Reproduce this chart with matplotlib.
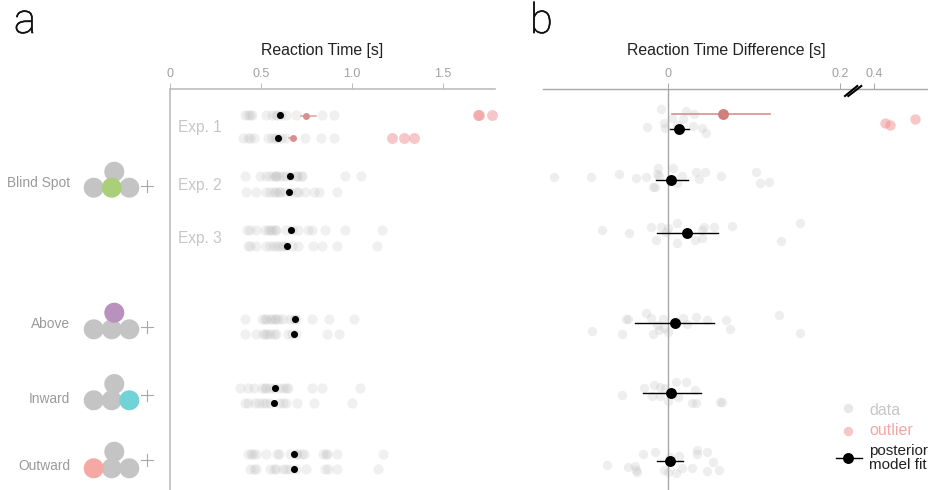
from matplotlib import pyplot as plt
from matplotlib import patheffects
from matplotlib.patches import Circle
import numpy as np

WIDTH, HEIGHT = 929, 490

# panel a, reaction times [s], two rows for each experiment
row_names = ['exp1_a', 'exp1_b', 'exp2_a', 'exp2_b', 'exp3_a', 'exp3_b',
             'above_a', 'above_b', 'inward_a', 'inward_b', 'outward_a', 'outward_b']
row_y = [115.5, 137.7, 176.5, 191.7, 229.7, 246.2, 318.7, 334.3, 387.7, 403, 453.7, 469]
rt_data = [
    [.41, .43, .44, .45, .53, .56, .58, .59, .61, .64, .69, .835, .90],
    [.40, .43, .44, .46, .54, .56, .575, .59, .61, .64, .74, .83, .90],
    [.41, .495, .53, .55, .57, .58, .585, .60, .62, .64, .66, .695, .70, .72, .725, .96, 1.05],
    [.42, .47, .53, .55, .57, .58, .60, .605, .63, .66, .69, .705, .74, .79, .82, .92],
    [.425, .44, .47, .52, .54, .55, .56, .575, .585, .64, .67, .705, .76, .78, .85, .96, 1.167],
    [.43, .44, .475, .53, .55, .57, .59, .605, .62, .64, .67, .705, .785, .835, .92, 1.137],
    [.41, .505, .52, .53, .55, .56, .575, .585, .60, .62, .66, .68, .695, .78, .875, 1.01],
    [.41, .475, .51, .52, .535, .55, .57, .585, .65, .67, .695, .86, .93],
    [.385, .43, .46, .505, .52, .53, .55, .57, .60, .62, .64, .65, .78, .835, 1.045],
    [.41, .43, .465, .49, .51, .53, .55, .60, .62, .64, .70, .79, 1.0],
    [.43, .445, .455, .47, .53, .59, .60, .66, .69, .70, .725, .735, .84, .855, .865, .92, 1.17],
    [.44, .46, .475, .55, .57, .585, .62, .64, .66, .69, .75, .85, .87, .915, 1.145],
]
rt_means = [.606, .595, .657, .654, .667, .645, .689, .68, .577, .573, .683, .68]
rt_outliers = {0: [1.69, 1.70, 1.77], 1: [1.22, 1.285, 1.343]}
rt_outlier_means = [(.745, .72, .80, 115.7), (.678, .655, .695, 137.7)]

# panel b, reaction time differences [ms] and their vertical jitter
diff_x = [
    [-8, 21, 30, 5, 18, -5, 29, -24, -3, 40, 44, 10],
    [-133, -90, -57, -37, -26, -12, 6, -13, -11, 16, 33, 43, 62, 102, 36, 117, 107, -18, -15, 10],
    [-77, -45, -20, -8, 0, 10, 42, 54, 74, 153, -14, 11, 131, 31, 40, 39, -2],
    [-26, -20, -49, -47, -6, 17, 33, 45, 68, 129, 72, 153, -88, -54, -17, 0, -11, -5, 22, -13],
    [-28, -16, -9, 9, 21, 31, -3, -19, -9, 12, -54, 0, 28, 33, 61, 63],
    [-29, -15, 2, 13, 34, 34, 45, 52, -71, -47, -38, -36, -37, -5, 0, 9, 16, 28, 45, 59],
]
diff_y = [
    [109, 111, 114, 118, 119, 123, 126, 127, 128, 128, 133, 125],
    [176.7, 177, 174, 178.3, 177, 168.3, 168.3, 174, 176, 176, 172.3, 171.7, 176.3, 171.7, 179.3,
     181.7, 183.3, 187.3, 186.7, 182.7],
    [230.3, 233.3, 227.3, 227.3, 228.3, 222.7, 226.7, 227.3, 226, 222.7, 239.7, 243, 240.7, 240,
     238, 230, 232.3],
    [313.3, 318.3, 319, 319, 319.3, 318.3, 316.7, 320, 320, 315, 328.7, 332.7, 330.7, 333.7, 334,
     332.3, 330, 328.3, 324, 325],
    [388.3, 385, 387.3, 381.7, 381.7, 390.3, 388.3, 395.7, 395.7, 397, 395, 400.7, 403.3, 403,
     401.7, 401.7],
    [454, 452.3, 456.7, 456, 450, 454, 452.3, 462, 465, 467.3, 465.7, 471.7, 470, 470, 471.7,
     472.7, 468, 467.7, 470.7, 470.3],
]
diff_outlier_x = [.4275, .44, .5025]
diff_outlier_y = [122.7, 124.7, 118.7]
# mean, low, high [ms], row
fit_mean = [13, 4, 22, 8, 4, 2]
fit_low = [2, -14, -13, -38, -29, -13]
fit_high = [24, 23, 58, 54, 38, 17]
fit_y = [128.7, 180.3, 233.3, 323.3, 392.7, 460.7]
red_fit = (64, 5, 119, 113.7)

GRAY_DOT = '#b4b4b4'
RED_DOT = '#f08f8f'
AXIS_GRAY = '#bdbdbd'
TICK_TEXT = '#a0a0a0'
BREAK_X = [-1.0, 0.2, 0.4, 1.0]
BREAK_PX = [-860.0, 172.0, 206.0, 446.0]


def to_break(v):
    return np.interp(v, BREAK_X, BREAK_PX)


def from_break(p):
    return np.interp(p, BREAK_PX, BREAK_X)


def px_axes(fig, left, right, top, bottom):
    return fig.add_axes([left / WIDTH, 1 - bottom / HEIGHT,
                         (right - left) / WIDTH, (bottom - top) / HEIGHT])


plt.rcParams['font.family'] = ['Liberation Sans', 'DejaVu Sans']

fig = plt.figure()
fig.set_size_inches(9.29, 4.9)

# panel a
ax = px_axes(fig, 170, 495, 89.5, 490)
ax.set_xlim(0, 325 / 182.0)
ax.set_ylim(490, 89.5)
for xs, y in zip(rt_data, row_y):
    ax.scatter(xs, [y] * len(xs), s=54, color=GRAY_DOT, alpha=0.2, linewidths=0, clip_on=False)
for i, xs in rt_outliers.items():
    ax.scatter(xs, [row_y[i]] * len(xs), s=62, color=RED_DOT, alpha=0.5, linewidths=0, clip_on=False)
for m, lo, hi, y in rt_outlier_means:
    ax.plot([lo, hi], [y, y], color='#e0a0a0', lw=1.1)
    ax.scatter([m], [y], s=25, color='#d98f8f', linewidths=0, zorder=3)
ax.scatter(rt_means, row_y, s=26, color='black', linewidths=0, zorder=4)

ax.xaxis.tick_top()
ax.set_xticks([0, 0.5, 1.0, 1.5])
ax.set_xticklabels(['0', '0.5', '1.0', '1.5'])
ax.set_yticks([])
ax.tick_params(axis='x', colors=TICK_TEXT, labelsize=9, length=4.5, width=0.7, color=AXIS_GRAY, pad=2.5)
for side in ['right', 'bottom']:
    ax.spines[side].set_visible(False)
for side in ['top', 'left']:
    ax.spines[side].set_color(AXIS_GRAY)
    ax.spines[side].set_linewidth(1.2)

# panel b
bx = px_axes(fig, 543, 929, 89.5, 490)
bx.set_xscale('function', functions=(to_break, from_break))
bx.set_xlim(-125 / 860.0, 0.5375)
bx.set_ylim(490, 89.5)
bx.axvline(0, color='#a8a8a8', lw=1.0, zorder=1)
for xs, ys in zip(diff_x, diff_y):
    bx.scatter(np.array(xs) / 1000.0, ys, s=46, color=GRAY_DOT, alpha=0.22, linewidths=0, zorder=2)
bx.scatter(diff_outlier_x, diff_outlier_y, s=56, color=RED_DOT, alpha=0.5, linewidths=0, zorder=2)
bx.plot([red_fit[1] / 1000.0, red_fit[2] / 1000.0], [red_fit[3]] * 2, color='#d98f8f', lw=1.2, zorder=3)
bx.scatter([red_fit[0] / 1000.0], [red_fit[3]], s=62, color='#d07f7f', linewidths=0, zorder=4)
for m, lo, hi, y in zip(fit_mean, fit_low, fit_high, fit_y):
    bx.plot([lo / 1000.0, hi / 1000.0], [y, y], color='black', lw=1.0, zorder=3)
    bx.scatter([m / 1000.0], [y], s=62, color='black', linewidths=0, zorder=4)

bx.xaxis.tick_top()
bx.set_xticks([0, 0.2, 0.4])
bx.set_xticklabels(['0', '0.2', '0.4'])
bx.set_yticks([])
bx.tick_params(axis='x', colors=TICK_TEXT, labelsize=9, length=4.5, width=0.7, color='#a8a8a8', pad=2.5)
for side in ['left', 'right', 'bottom']:
    bx.spines[side].set_visible(False)
bx.spines['top'].set_color('#a8a8a8')
bx.spines['top'].set_linewidth(1.0)

# labels, stimulus icons and legend go on one overlay in pixel units
ov = fig.add_axes([0, 0, 1, 1], zorder=10)
ov.set_xlim(0, WIDTH)
ov.set_ylim(HEIGHT, 0)
ov.axis('off')

# the light face is too thin, thicken it a little
for letter, x in [('a', 14), ('b', 530)]:
    t = ov.text(x, 33, letter, fontsize=30, color='#111111', family=['Roboto', 'Liberation Sans'],
                fontweight='light')
    t.set_path_effects([patheffects.withStroke(linewidth=0.5, foreground='#111111')])
ov.text(322, 50, 'Reaction Time [s]', fontsize=11.4, color='#222222', ha='center', va='center')
ov.text(726, 50, 'Reaction Time Difference [s]', fontsize=11.4, color='#222222', ha='center', va='center')

for label, y in zip(['Exp. 1', 'Exp. 2', 'Exp. 3'], [127.5, 185, 238]):
    ov.text(178.5, y, label, fontsize=11.2, color='#c6c6c6', va='center')

ICON_GRAY = '#c4c4c4'
icon_labels = ['Blind Spot', 'Above', 'Inward', 'Outward']
label_y = [183, 323.5, 399, 466]
icon_top = [171.7, 312.7, 384, 451.7]
icon_low = [187.7, 329.3, 400.3, 468.3]
plus_y = [186, 327, 395.3, 460]
icon_hi = [1, 0, 2, 3]  # 0 top, 1 middle, 2 right, 3 left
icon_col = ['#a9cf7a', '#b891bd', '#72d3d7', '#f5a9a5']
for i, name in enumerate(icon_labels):
    ov.text(70, label_y[i], name, fontsize=9.9, color='#9a9a9a', ha='right', va='center')
    centres = [(114.3, icon_top[i]), (111.7, icon_low[i]), (129.3, icon_low[i]), (93.7, icon_low[i])]
    for j, c in enumerate(centres):
        if j != icon_hi[i]:
            ov.add_patch(Circle(c, 10, color=ICON_GRAY, lw=0))
    ov.add_patch(Circle(centres[icon_hi[i]], 10, color=icon_col[i], lw=0, zorder=3))
    ov.plot([141.5, 153], [plus_y[i], plus_y[i]], color='#a8a8a8', lw=0.8)
    ov.plot([147.3, 147.3], [plus_y[i] - 5.7, plus_y[i] + 5.7], color='#a8a8a8', lw=0.8)

# axis break
ov.plot([845, 857.3], [96, 86], color='black', lw=1.5)
ov.plot([848.3, 861.3], [96, 86], color='black', lw=1.5)

# legend
ov.scatter([847.7], [408.3], s=46, color=GRAY_DOT, alpha=0.3, linewidths=0)
ov.scatter([847.7], [430.7], s=46, color=RED_DOT, alpha=0.5, linewidths=0)
ov.plot([835.7, 861.7], [458.3, 458.3], color='black', lw=1.0)
ov.scatter([848], [458.3], s=62, color='black', linewidths=0, zorder=4)
ov.text(869, 410, 'data', fontsize=11.5, color='#c6c6c6', va='center')
ov.text(869, 430.5, 'outlier', fontsize=11.5, color='#f5a6a6', va='center')
ov.text(869, 458, 'posterior\nmodel fit', fontsize=11, color='#222222', va='center', linespacing=1.05)

fig.savefig('out.png', dpi=100)
plt.close(fig)
